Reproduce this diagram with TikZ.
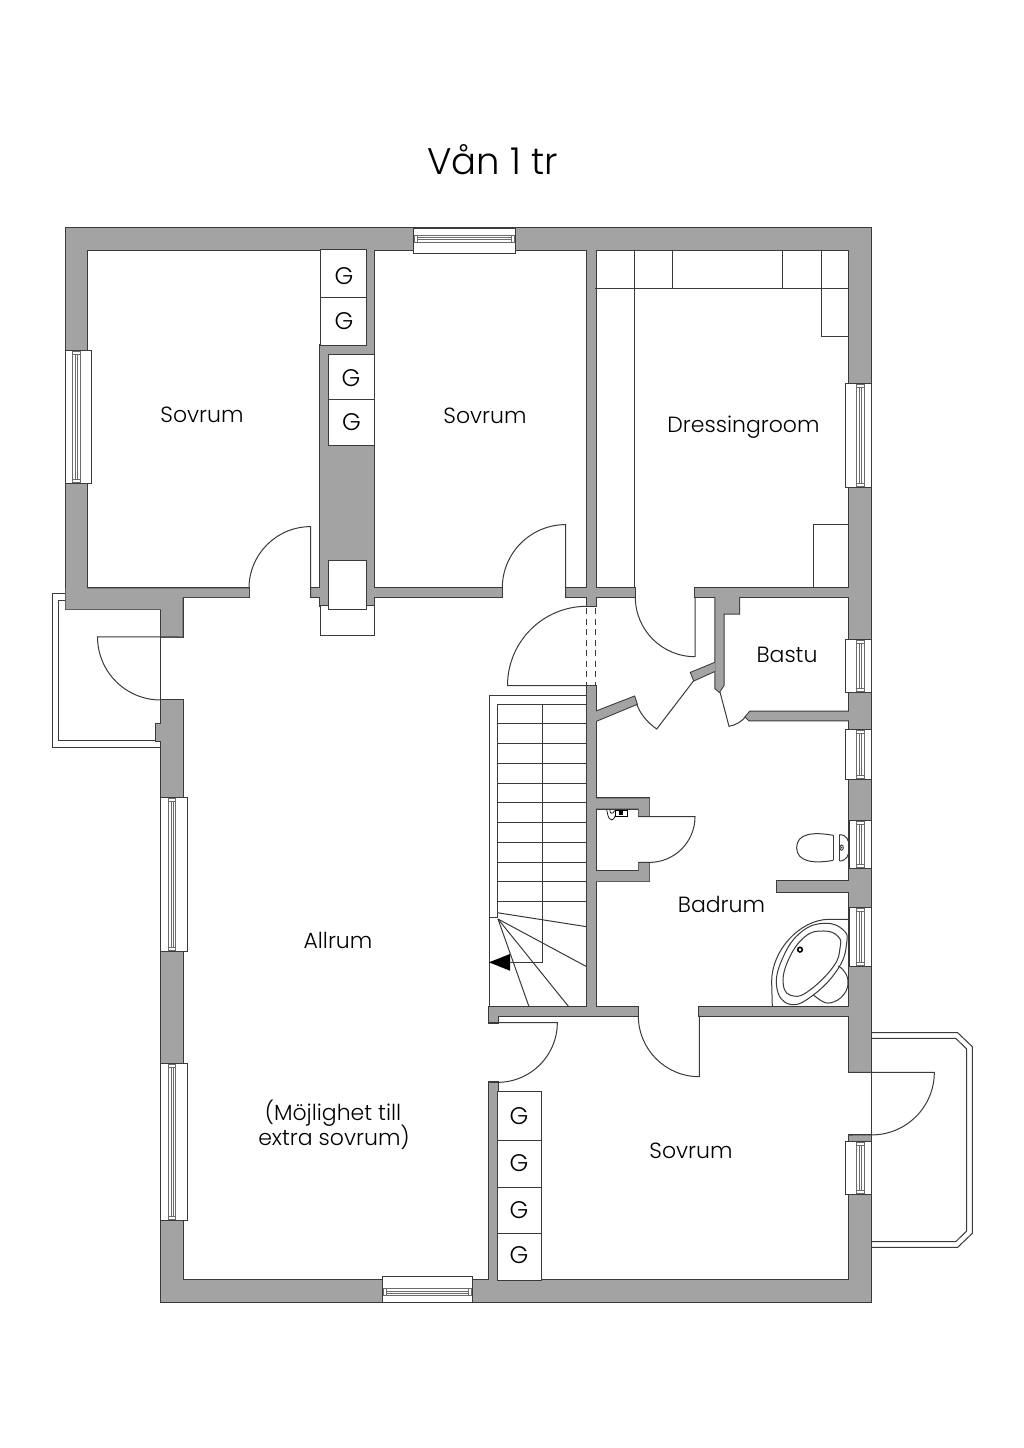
\documentclass[tikz,border=0pt]{standalone}
\usepackage{fontspec}
\setmainfont{Poppins}[UprightFont=* Light]
\definecolor{wallgray}{HTML}{A3A3A3}
\definecolor{ink}{HTML}{3A3A3A}
\tikzset{
  thin line/.style={draw=ink,line width=1pt},
  frame line/.style={draw=ink!75,line width=0.65pt},
  room/.style={font=\fontsize{22}{26}\selectfont,text=black,inner sep=0pt,anchor=base},
  gmark/.style={font=\fontsize{24}{28}\selectfont,text=black,inner sep=0pt,anchor=base},
}
\newcommand\allwalls{%
 \W{(65.6,228.3) rectangle (871.4,249.7)}%
 \W{(65.6,228.3) rectangle (87.3,609.4)}%
 \W{(65.6,588.3)--(249,588.3)--(249,597)--(182.7,597)--(182.7,637.3)--(161,637.3)--(161,609.4)--(65.6,609.4)--cycle}%
 \W{(161,700) rectangle (182.7,1302.3)}%
 \W{(155.7,724) rectangle (161,740.7)}%
 \W{(161,1280.3) rectangle (871.4,1302.3)}%
 \W{(849.3,228.3) rectangle (871.4,1072.3)}%
 \W{(849.3,1135) rectangle (871.4,1302.3)}%
 \W{(366.7,249.7) rectangle (374.3,345.3)}%
 \W{(320,345.3) rectangle (374.3,605.7)}%
 \W{(310.7,588.3) rectangle (320,597)}%
 \W{(374.3,588) rectangle (502.3,596.7)}%
 \W{(565.7,588) rectangle (635.3,597)}%
 \W{(586.7,249.7) rectangle (595.7,606.3)}%
 \W{(695,588) rectangle (849.3,596.7)}%
 \W{(715.3,596.7)--(739,596.7)--(739,613.7)--(723.7,613.7)--(723.7,685)--(719.3,691.7)--(715.3,688.3)--cycle}%
 \W{(715.3,662.7)--(691,672.7)--(694,680.3)--(715.3,670.7)--cycle}%
 \W{(595.7,711.7)--(634.3,696.7)--(636.7,704)--(595.7,721)--cycle}%
 \W{(586.7,685.7) rectangle (595.7,1006.7)}%
 \W{(489,1006.7) rectangle (638.3,1015.7)}%
 \W{(489,1006.7) rectangle (497.7,1022.7)}%
 \W{(699.3,1006.7) rectangle (849.3,1015.7)}%
 \W{(489.3,1082) rectangle (497.7,1290)}%
 \W{(750,711.7)--(849.3,711.7)--(849.3,720.3)--(749,720.3)--(745.7,716.7)--cycle}%
 \W{(595.7,798.3)--(649.3,798.3)--(649.3,816)--(638.7,816)--(638.7,808.7)--(595.7,808.7)--cycle}%
 \W{(595.7,871)--(638.7,871)--(638.7,862.7)--(649.3,862.7)--(649.3,881.3)--(595.7,881.3)--cycle}%
 \W{(777.3,880.7) rectangle (860,892.3)}%
}
% vertical window: x1 x2 y1 y2 fx1 fx2
\newcommand\vwin[6]{%
 \draw[thin line,fill=white] (#1,#3) rectangle (#2,#4);
 \draw[frame line] (#5,#3+1) rectangle (#6,#4-1);
 \draw[frame line] (#5+2.6,#3+4) rectangle (#6-2.6,#4-4);
 \draw[frame line] (#5,#3+4) -- (#6,#3+4) (#5,#4-4) -- (#6,#4-4);
}
% horizontal window: x1 x2 y1 y2 fy1 fy2
\newcommand\hwin[6]{%
 \draw[thin line,fill=white] (#1,#3) rectangle (#2,#4);
 \draw[frame line] (#1+1,#5) rectangle (#2-1,#6);
 \draw[frame line] (#1+4,#5+2.6) rectangle (#2-4,#6-2.6);
 \draw[frame line] (#1+4,#5) -- (#1+4,#6) (#2-4,#5) -- (#2-4,#6);
}
\begin{document}
\begin{tikzpicture}[x=1pt,y=-1pt]
\useasboundingbox (0,0) rectangle (1024,1448);
\fill[white] (0,0) rectangle (1024,1448);
% balconies
\draw[thin line] (65.3,593.7)--(52,593.7)--(52,747.3)--(160.7,747.3);
\draw[thin line] (65.3,600)--(58,600)--(58,740.7)--(155.7,740.7);
\draw[thin line] (871.7,1032.7)--(957.7,1032.7)--(972.3,1046.7)--(972.3,1233.3)--(957.7,1247.3)--(871.7,1247.3);
\draw[thin line] (871.7,1038.3)--(955.7,1038.3)--(966.7,1049)--(966.7,1231)--(955.7,1241.7)--(871.7,1241.7);
% walls: outline pass, then fill pass, so joins stay clean
\def\W#1{\draw[draw=ink,line width=2pt] #1;}\allwalls
\def\W#1{\fill[wallgray] #1;}\allwalls
% built-in cupboards
\draw[thin line,fill=white] (320,249.7) rectangle (366.7,345.3);
\draw[thin line] (320,297.7)--(366.7,297.7);
\draw[thin line,fill=white] (328.3,354) rectangle (374.3,445.3);
\draw[thin line] (328.3,399.3)--(374.3,399.3);
\draw[thin line,fill=white] (320,605.7) rectangle (374.7,635.7);
\draw[thin line,fill=white] (328.3,560) rectangle (366.7,609.7);
\draw[thin line,fill=white] (497.7,1091.7) rectangle (541.7,1280.3);
\draw[thin line] (497.7,1140)--(541.7,1140) (497.7,1187)--(541.7,1187) (497.7,1233.7)--(541.7,1233.7);
\draw[thin line] (595.3,288.3)--(849.3,288.3);
\draw[thin line] (634,249.7)--(634,588);
\draw[thin line] (672.7,249.7)--(672.7,288.3) (782.3,249.7)--(782.3,288.3);
\draw[thin line] (821.3,249.7)--(821.3,336.3)--(849.3,336.3);
\draw[thin line] (849.3,524.3)--(813.3,524.3)--(813.3,588);
% windows
\vwin{65.3}{91.7}{350.7}{483.3}{72.7}{80.3}
\vwin{845.7}{871.7}{383.3}{487.7}{856.3}{864}
\vwin{845.7}{871.7}{639.3}{692.7}{856.5}{864}
\vwin{845.7}{871.7}{729.3}{779.3}{856.5}{864}
\vwin{849.3}{871.7}{820}{868.3}{856.5}{864}
\vwin{849.3}{871.7}{907.3}{966}{856.5}{864}
\vwin{845.3}{871.7}{1141}{1194}{856.7}{864}
\vwin{160.7}{187}{797.3}{951}{168.3}{175.7}
\vwin{160.7}{187}{1063}{1220}{168.3}{175.7}
\hwin{413.3}{515.7}{228.3}{253.3}{235}{242.3}
\hwin{382.3}{472.7}{1276.7}{1302.7}{1288.3}{1295.7}
% doors
\draw[thin line] (249,588.3) arc[start angle=-180,end angle=-90,radius=61.7] -- (310.7,597);
\draw[thin line] (502.3,588) arc[start angle=-180,end angle=-90,radius=63.4] -- (565.7,597);
\draw[thin line] (160.7,700) arc[start angle=-270,end angle=-180,radius=63.2] -- (182.7,637);
\draw[thin line] (160.7,609.7) -- (160.7,700);
\draw[thin line] (586.7,606.3) arc[start angle=-90,end angle=-180,radius=79.2] -- (586.7,685.6);
\draw[draw=ink,line width=0.7pt,dash pattern=on 6pt off 4.5pt] (586.7,608) -- (586.7,685.6) (595.7,608) -- (595.7,685.6);
\draw[thin line] (635.3,597) arc[start angle=-180,end angle=-270,radius=59.7] -- (695,597);
\draw[thin line] (636.7,704) .. controls (640,714) and (648,723) .. (656.7,729) -- (694,680.3);
\draw[thin line] (720,692) -- (729,726.3) .. controls (736,725) and (741,722) .. (745.7,716.7);
\draw[thin line] (638.7,816.7) -- (695,816.7) arc[start angle=0,end angle=90,radius=45.7] -- (638.7,862.4);
\draw[thin line] (489,1022.7) -- (557.3,1022.7) arc[start angle=0,end angle=90,radius=59.6] -- (489.3,1082.3);
\draw[thin line] (638.3,1015.7) arc[start angle=180,end angle=90,radius=61] -- (699.3,1015.7);
\draw[thin line] (849.3,1072.3) -- (934.3,1072.3) arc[start angle=0,end angle=90,radius=62.6] -- (849.3,1135);
\draw[thin line] (871.7,1072.3) -- (871.7,1135);
% stairs
\draw[thin line] (489,1006.7)--(489,695.3)--(586.7,695.3);
\draw[thin line] (497.7,917.7)--(497.7,704)--(586.7,704);
\foreach \yy in {723.7,743.5,763.2,783,802.7,822.4,842.2,862,881.7,901.4}
  \draw[thin line] (497.7,\yy)--(586.7,\yy);
\draw[thin line] (489,917.7)--(497.7,917.7);
\draw[thin line] (497.3,912.7)--(586.7,926.7);
\draw[thin line] (498,919)--(586.7,966.7);
\draw[thin line] (498,919)--(568.7,1006.7);
\draw[thin line] (498,919)--(529,1006.7);
\draw[thin line] (542.3,704)--(542.3,962)--(510,962);
\fill[black] (489,962.3)--(510,954)--(510,970.7)--cycle;
% toilet
\begin{scope}[shift={(580,760)},x=0.3333pt,y=-0.3333pt]
\draw[thin line] (760,226) .. controls (700,215) and (650,220) .. (650,263) .. controls (650,305) and (700,312) .. (760,301);
\draw[thin line] (760,226)--(760,301) (778,224)--(778,303);
\draw[thin line] (778,224) .. controls (800,224) and (808,240) .. (808,263) .. controls (808,285) and (800,303) .. (778,303);
\draw[draw=ink,line width=0.9pt] (785,263) ellipse[x radius=5,y radius=8];
\fill[ink] (785,263) circle[radius=2.5];
% bath
\draw[thin line] (808,478) -- (745,478) .. controls (660,480) and (575,570) .. (575,665) -- (577,740);
\draw[thin line] plot[smooth cycle,tension=0.75] coordinates {(735,490) (790,510) (800,550) (775,625) (700,705) (630,733) (590,680) (610,590) (665,515)};
\draw[thin line] plot[smooth cycle,tension=0.75] coordinates {(732,513) (775,530) (780,565) (760,620) (690,690) (640,708) (610,675) (625,600) (675,530)};
\draw[thin line] (775,618) .. controls (795,630) and (808,650) .. (803,680) .. controls (795,715) and (755,735) .. (735,728) .. controls (720,722) and (710,712) .. (700,705);
\draw[draw=black,line width=1.6pt] (660,569) circle[radius=7];
% tap
\draw[draw=black,line width=0.7pt] (80,150) .. controls (85,165) and (82,175) .. (95,180) .. controls (105,178) and (104,165) .. (110,158);
\draw[draw=black,line width=0.7pt] (90,150) .. controls (88,160) and (98,165) .. (104,152);
\draw[draw=black,line width=0.8pt,fill=white] (105,150) rectangle (142,168);
\fill[black] (118,152) rectangle (128,166);
\end{scope}
% labels
\node[font=\fontsize{37}{42}\selectfont,inner sep=0pt,text=black,anchor=base] (title) at (492.5,174) {Vån 1 tr};
\node[room] (r1) at (202,422) {Sovrum};
\node[room] (r2) at (485,423) {Sovrum};
\node[room] (r3) at (743.5,432.7) {Dressingroom};
\node[room] (r4) at (787,662.5) {Bastu};
\node[room] (r5) at (721.5,912.7) {Badrum};
\node[room] (r6) at (338,948) {Allrum};
\node[room] (r7) at (333,1120) {(Möjlighet till};
\node[room] (r7b) at (334,1145) {extra sovrum)};
\node[room] (r8) at (691,1158) {Sovrum};
\node[gmark] (g1) at (344,284) {G};
\node[gmark] (g2) at (344,329) {G};
\node[gmark] (g3) at (351,386) {G};
\node[gmark] (g4) at (351.5,430) {G};
\node[gmark] (g5) at (519,1124) {G};
\node[gmark] (g6) at (519,1171) {G};
\node[gmark] (g7) at (519,1218) {G};
\node[gmark] (g8) at (519,1263) {G};
\end{tikzpicture}
\end{document}
